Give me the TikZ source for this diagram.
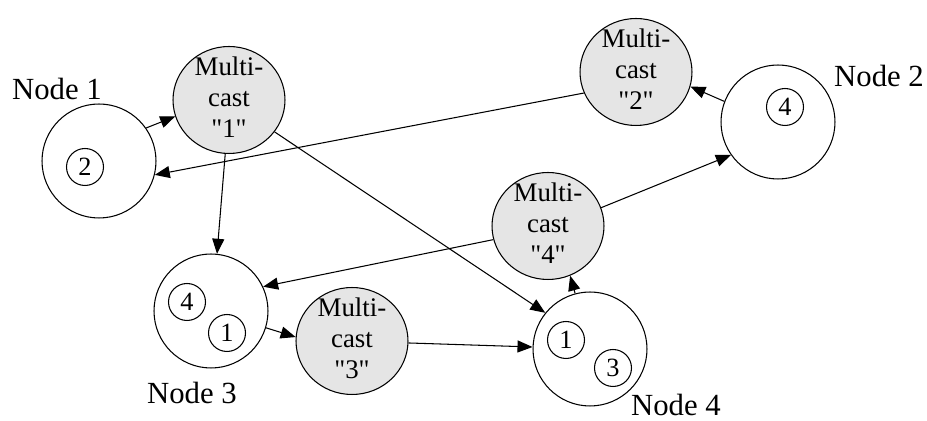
\documentclass[tikz,border=0pt]{standalone}
\usepackage{fontspec}
\setmainfont{Liberation Serif}
\usetikzlibrary{arrows.meta, shapes.geometric}

\tikzset{
    host/.style={draw, circle, minimum size=2.28cm, inner sep=0pt},
    port/.style={draw, circle, minimum size=0.74cm, inner sep=0pt, font=\fontsize{15}{17}\selectfont},
    mctext/.style={align=center, font=\fontsize{15.3}{17.5}\selectfont, yshift=1.5pt},
    mcast/.style={draw, ellipse, fill=black!10, minimum width=2.24cm, minimum height=2.14cm, inner sep=0pt,
        label={[mctext]center:Multi-\\cast\\\textquotedbl#1\textquotedbl}},
    tag/.style={font=\fontsize{17.5}{20}\selectfont}
}

\begin{document}
\begin{tikzpicture}[>={Triangle[length=0.3cm, width=0.24cm]}, x=0.02cm, y=-0.02cm, line width=0.6pt]
    \useasboundingbox (0,0) rectangle (927,421);

    % Hosts
    \node[host] (n1) at (99,161) {};
    \node[port] (n1a) at (85,167) {2};
    \node[tag] (t1) at (57,89) {Node 1};

    \node[host] (n2) at (778,122) {};
    \node[port] (n2a) at (785,107) {4};
    \node[tag] (t2) at (879,76) {Node 2};

    \node[host] (n3) at (211,311) {};
    \node[port] (n3a) at (187,302) {4};
    \node[port] (n3b) at (227,333) {1};
    \node[tag] (t3) at (192,393) {Node 3};

    \node[host] (n4) at (590,349) {};
    \node[port] (n4a) at (566,340) {1};
    \node[port] (n4b) at (613,368) {3};
    \node[tag] (t4) at (676,405) {Node 4};

    % Multicast groups
    \node[mcast=1] (m1) at (229,100) {};
    \node[mcast=2] (m2) at (636,72) {};
    \node[mcast=3] (m3) at (352,341) {};
    \node[mcast=4] (m4) at (548,226) {};

    % Traffic
    \draw[->] (n1.35) -- (m1.197);
    \draw[->] (m2.202) -- (n1.346);
    \draw[->] (m1.266) -- (n3.84);
    \draw[->] (m1.325) -- (n4.141);
    \draw[->] (n2.159) -- (m2.345);
    \draw[->] (m4.19) -- (n2.215);
    \draw[->] (m4.194) -- (n3.25);
    \draw[->] (n3.343) -- (m3.176);
    \draw[->] (m3.358) -- (n4.178);
    \draw[->] (n4.105) -- (m4.294);
\end{tikzpicture}
\end{document}
